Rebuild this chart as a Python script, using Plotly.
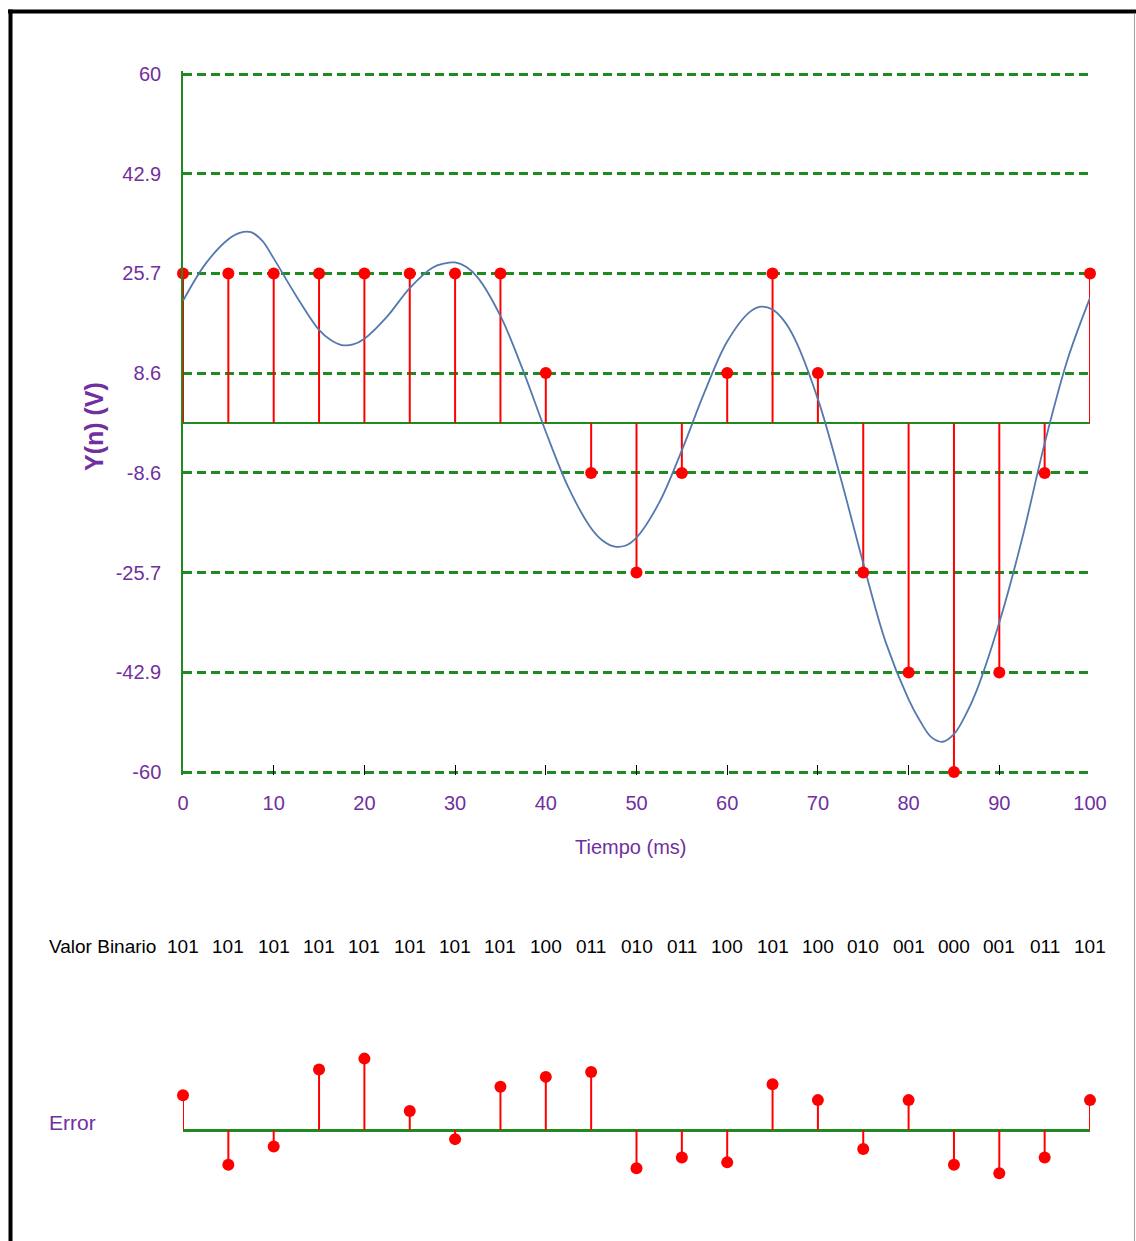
import plotly.graph_objects as go

# ---------------- data ----------------
# sampling instants (ms)
sample_t = [0, 5, 10, 15, 20, 25, 30, 35, 40, 45, 50, 55, 60, 65, 70, 75, 80, 85, 90, 95, 100]
# quantized sample values (V)
sample_q = [25.7, 25.7, 25.7, 25.7, 25.7, 25.7, 25.7, 25.7, 8.6, -8.6, -25.7, -8.6,
            8.6, 25.7, 8.6, -25.7, -42.9, -60.0, -42.9, -8.6, 25.7]
# binary codes for each sample
binary_codes = ["101", "101", "101", "101", "101", "101", "101", "101", "100", "011", "010",
                "011", "100", "101", "100", "010", "001", "000", "001", "011", "101"]
# quantization error
error_vals = [4.2, -4.2, -2.0, 7.3, 8.6, 2.3, -1.1, 5.2, 6.4, 7.0, -4.6, -3.3, -3.9,
              5.5, 3.6, -2.3, 3.6, -4.2, -5.2, -3.3, 3.6]

# continuous signal, points
curve_t = [0, 2.5, 5, 6.25, 7.5, 8.75, 10, 12.5, 15, 16.25, 17.5, 18.75, 20, 22.5, 25,
           27.5, 28.75, 30, 31.25, 32.5, 35, 37.5, 40, 42.5, 45, 46.25, 47.5, 48.75, 50,
           52.5, 55, 57.5, 60, 62.5, 63.75, 65, 66.25, 67.5, 70, 72.5, 75, 77.5, 80, 81.25,
           82.5, 83.75, 85, 86.25, 87.5, 90, 92.5, 95, 97.5, 100]
curve_v = [21.0, 27.4, 31.6, 32.7, 32.8, 31.3, 28.3, 21.8, 16.0, 14.3, 13.4, 13.5, 14.5,
           18.3, 23.2, 26.7, 27.4, 27.6, 26.8, 25.0, 18.4, 9.0, -1.5, -11.1, -18.1, -20.2,
           -21.2, -21.1, -19.7, -13.7, -4.7, 5.3, 14.0, 19.1, 20.0, 19.5, 17.6, 14.3, 4.1,
           -9.4, -24.1, -37.8, -47.5, -51.2, -54.0, -54.8, -53.5, -50.3, -46.0, -34.3, -20.0,
           -3.5, 10.8, 21.5]

# axis ticks
y_levels = [-60, -42.86, -25.71, -8.57, 8.57, 25.71, 42.86, 60]
y_labels = ["-60", "-42.9", "-25.7", "-8.6", "8.6", "25.7", "42.9", "60"]
x_ticks = [0, 10, 20, 30, 40, 50, 60, 70, 80, 90, 100]
x_labels = ["0", "10", "20", "30", "40", "50", "60", "70", "80", "90", "100"]

# ---------------- style ----------------
W, H = 1136, 1241
PURPLE = "#7030A0"
GREEN = "#1F8A1F"
RED = "#FF0000"
BLUE = "#5479AE"
FONT = "Liberation Sans, Arial, sans-serif"

def px_x(p):
    return p / W

def px_y(p):
    return 1 - p / H

def stems(xs, ys):
    sx, sy = [], []
    for x, y in zip(xs, ys):
        sx += [x, x, None]
        sy += [0, y, None]
    return sx, sy

fig = go.Figure()

# main panel
mx, my = stems(sample_t, sample_q)
fig.add_trace(go.Scatter(x=mx, y=my, mode="lines", line=dict(color=RED, width=2),
                         xaxis="x", yaxis="y", hoverinfo="skip", cliponaxis=False))
fig.add_trace(go.Scatter(x=curve_t, y=curve_v, mode="lines",
                         line=dict(color=BLUE, width=1.8, shape="spline", smoothing=1.0),
                         xaxis="x", yaxis="y"))
fig.add_trace(go.Scatter(x=sample_t, y=sample_q, mode="markers", cliponaxis=False,
                         marker=dict(color=RED, size=12), xaxis="x", yaxis="y"))

# error panel
ex, ey = stems(sample_t, error_vals)
fig.add_trace(go.Scatter(x=ex, y=ey, mode="lines", line=dict(color=RED, width=2),
                         xaxis="x2", yaxis="y2", hoverinfo="skip", cliponaxis=False))
fig.add_trace(go.Scatter(x=sample_t, y=error_vals, mode="markers", cliponaxis=False,
                         marker=dict(color=RED, size=12), xaxis="x2", yaxis="y2"))

xdom = [px_x(183), px_x(1090)]
# y range slightly beyond +-60 so the edge grid lines are drawn
YPAD = 0.6
ypx_per_unit = (772 - 74) / 120.0
ydom = [px_y(772 + YPAD * ypx_per_unit), px_y(74 - YPAD * ypx_per_unit)]

annotations = []
# binary codes row
annotations.append(dict(text="Valor Binario", x=px_x(47), y=px_y(946), xref="paper", yref="paper",
                        xanchor="left", yanchor="middle", showarrow=False,
                        font=dict(family=FONT, size=19, color="black")))
for t, code in zip(sample_t, binary_codes):
    annotations.append(dict(text=code, x=t, y=px_y(946), xref="x", yref="paper",
                            xanchor="center", yanchor="middle", showarrow=False,
                            font=dict(family=FONT, size=19, color="black")))
# titles
annotations.append(dict(text="Tiempo (ms)", x=px_x(630), y=px_y(847), xref="paper", yref="paper",
                        xanchor="center", yanchor="middle", showarrow=False,
                        font=dict(family=FONT, size=20, color=PURPLE)))
annotations.append(dict(text="<b>Y(n) (V)</b>", x=px_x(94), y=px_y(427), xref="paper", yref="paper",
                        xanchor="center", yanchor="middle", showarrow=False, textangle=-90,
                        font=dict(family=FONT, size=25, color=PURPLE)))
annotations.append(dict(text="Error", x=px_x(47), y=px_y(1122), xref="paper", yref="paper",
                        xanchor="left", yanchor="middle", showarrow=False,
                        font=dict(family=FONT, size=21, color=PURPLE)))

shapes = [
    dict(type="line", xref="paper", yref="paper", x0=px_x(8), x1=1, y0=px_y(11.5), y1=px_y(11.5),
         line=dict(color="black", width=4)),
    dict(type="line", xref="paper", yref="paper", x0=px_x(10.5), x1=px_x(10.5), y0=px_y(9.5), y1=0,
         line=dict(color="black", width=4)),
    dict(type="line", xref="paper", yref="paper", x0=px_x(1134.5), x1=px_x(1134.5), y0=px_y(13), y1=0,
         line=dict(color="#A0A0A0", width=1)),
]

fig.update_layout(
    width=W, height=H,
    margin=dict(l=0, r=0, t=0, b=0, pad=0, autoexpand=False),
    paper_bgcolor="white", plot_bgcolor="white",
    showlegend=False,
    xaxis=dict(domain=xdom, range=[0, 100], showgrid=False, zeroline=False, showline=False,
               automargin=False,
               tickmode="array", tickvals=x_ticks, ticktext=x_labels,
               ticks="inside", ticklen=10, tickwidth=1, tickcolor="black",
               ticklabelstandoff=14,
               tickfont=dict(family=FONT, size=20, color=PURPLE), anchor="y"),
    yaxis=dict(domain=ydom, range=[-60 - YPAD, 60 + YPAD], tickmode="array", automargin=False,
               tickvals=y_levels, ticktext=y_labels, showgrid=True, gridcolor=GREEN,
               gridwidth=2.5, griddash="9px,5px", zeroline=True, zerolinecolor=GREEN,
               zerolinewidth=2, showline=True, linecolor=GREEN, linewidth=1.5,
               ticks="", ticklabelstandoff=16,
               tickfont=dict(family=FONT, size=20, color=PURPLE), anchor="x"),
    xaxis2=dict(domain=xdom, range=[0, 100], visible=False, anchor="y2", automargin=False),
    yaxis2=dict(domain=[px_y(1213), px_y(1047)], range=[-10, 10], showgrid=False, automargin=False,
                showticklabels=False, ticks="", zeroline=True, zerolinecolor=GREEN,
                zerolinewidth=3, showline=False, anchor="x2"),
    annotations=annotations,
    shapes=shapes,
)

fig.write_html("out.html")
